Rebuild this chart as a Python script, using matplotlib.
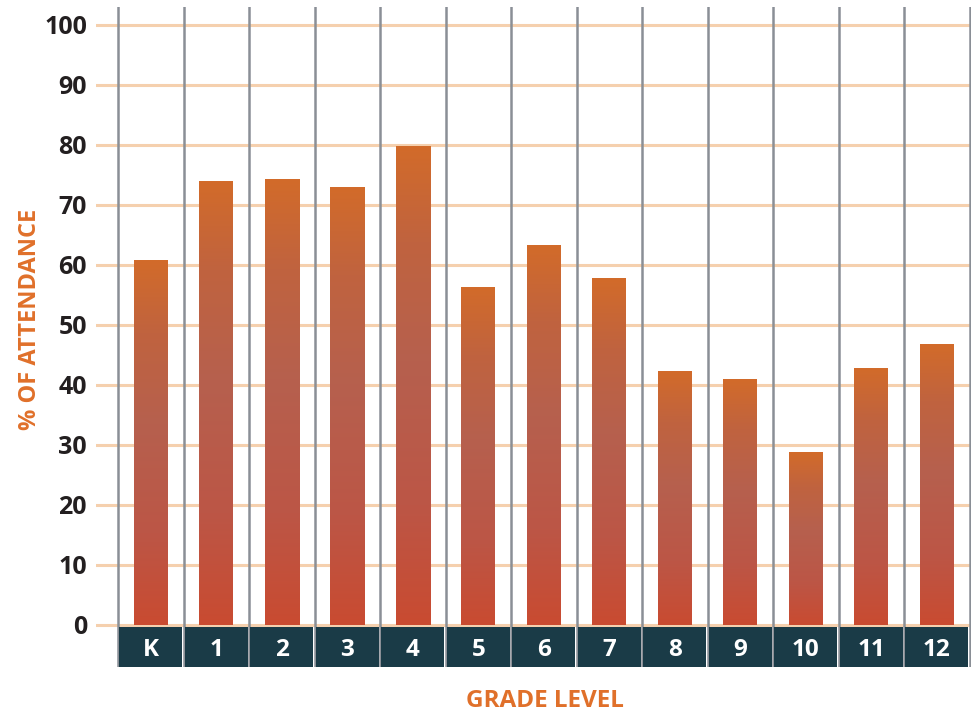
import numpy as np
import matplotlib
matplotlib.use("Agg")
import matplotlib.pyplot as plt
from matplotlib.colors import LinearSegmentedColormap
from matplotlib.patches import Rectangle

grades = ["K", "1", "2", "3", "4", "5", "6", "7", "8", "9", "10", "11", "12"]
attendance = [60.7, 74.0, 74.3, 73.0, 79.7, 56.2, 63.2, 57.7, 42.2, 41.0, 28.7, 42.7, 46.7]
yticks = [0, 10, 20, 30, 40, 50, 60, 70, 80, 90, 100]

FONT = "Open Sans"
W, H = 971, 716
fig = plt.figure(figsize=(W / 100, H / 100), dpi=100)
px = lambda x: x / W
py = lambda y: 1 - y / H
ax = fig.add_axes([px(96), py(667), px(971) - px(96), py(7) - py(667)])

step = 65.5
x0 = -0.5 - 22 / step
x1 = -0.5 + (971 - 118) / step
ax.set_xlim(x0, x1)
ax.set_ylim(-7, 103)
for s in ax.spines.values():
    s.set_visible(False)
ax.set_xticks([])
ax.set_yticks(yticks)
ax.set_yticklabels([str(t) for t in yticks], fontfamily=FONT, fontweight="bold",
                   fontsize=18, color="#231F20")
ax.tick_params(axis="y", length=0, pad=6.5)

# horizontal gridlines
for t in yticks:
    ax.axhline(t, color="#F5D0AE", lw=2.2, zorder=1)

# vertical separators
n = len(grades)
for k in range(n + 1):
    ax.axvline(k - 0.5, color="#8A8F96", lw=1.8, zorder=2)

# gradient bars
cmap = LinearSegmentedColormap.from_list(
    "bar", [(0.0, "#C94B31"), (0.25, "#BC5646"), (0.55, "#B6604E"), (0.8, "#C0633F"), (1.0, "#D26B2A")])
grad = np.linspace(0, 1, 256).reshape(-1, 1)
bw = 34 / step
for i, v in enumerate(attendance):
    ax.imshow(grad, cmap=cmap, origin="lower", aspect="auto",
              extent=(i - bw / 2, i + bw / 2, 0, v), zorder=3, interpolation="bilinear")

# category label boxes
gap = 1.2 / step
for i, g in enumerate(grades):
    ax.add_patch(Rectangle((i - 0.5 + gap, -7), 1 - 2 * gap, 6.6,
                           facecolor="#1A3B47", edgecolor="none", zorder=4))
    ax.text(i, -4.1, g, ha="center", va="center", color="white", fontfamily=FONT,
            fontweight="bold", fontsize=17.5, zorder=5)

ax.set_xlim(x0, x1)
ax.set_ylim(-7, 103)

fig.text(px(545), py(701), "GRADE LEVEL", ha="center", va="center", color="#E0702A",
         fontfamily=FONT, fontweight="bold", fontsize=17.5)
fig.text(px(30), py(319), "% OF ATTENDANCE", ha="center", va="center", rotation=90,
         color="#E0702A", fontfamily=FONT, fontweight="bold", fontsize=17)

fig.savefig("out.png", dpi=100)
